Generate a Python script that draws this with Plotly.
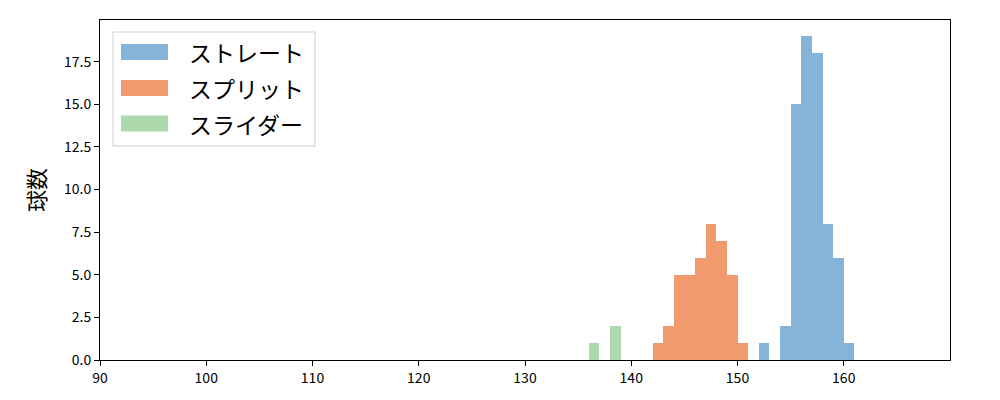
import plotly.graph_objects as go

# Histogram data (1 km/h bins, value = count)
straight_bins = [152, 154, 155, 156, 157, 158, 159, 160]
straight_counts = [1, 2, 15, 19, 18, 8, 6, 1]

split_bins = [142, 143, 144, 145, 146, 147, 148, 149, 150]
split_counts = [1, 2, 5, 5, 6, 8, 7, 5, 1]

slider_bins = [136, 138]
slider_counts = [1, 2]

series_names = ["ストレート", "スプリット", "スライダー"]
series_colors = ["#85b4d8", "#f09a6e", "#addaac"]

x_ticks = [90, 100, 110, 120, 130, 140, 150, 160]
y_ticks = [0, 2.5, 5, 7.5, 10, 12.5, 15, 17.5]

FONT = "Noto Sans CJK JP, IPAexGothic, sans-serif"

fig = go.Figure()
for bins, counts, name, color in [
    (straight_bins, straight_counts, series_names[0], series_colors[0]),
    (split_bins, split_counts, series_names[1], series_colors[1]),
    (slider_bins, slider_counts, series_names[2], series_colors[2]),
]:
    fig.add_trace(go.Bar(
        x=bins, y=counts, name=name, width=1, offset=0,
        marker=dict(color=color, line=dict(width=0)),
        showlegend=False,
    ))

# Manual legend (matplotlib style)
fig.add_shape(type="rect", xref="paper", yref="paper",
              x0=(113 - 100) / 850, x1=(315 - 100) / 850,
              y0=(360 - 146) / 340, y1=(360 - 32) / 340,
              line=dict(color="#d0d0d0", width=1), fillcolor="white", layer="above")
row_y = [52, 88, 123.5]
for i, (name, color) in enumerate(zip(series_names, series_colors)):
    yc = row_y[i]
    fig.add_shape(type="rect", xref="paper", yref="paper",
                  x0=(121 - 100) / 850, x1=(168 - 100) / 850,
                  y0=(360 - (yc + 8)) / 340, y1=(360 - (yc - 8)) / 340,
                  line=dict(width=0), fillcolor=color, layer="above")
    fig.add_annotation(xref="paper", yref="paper",
                       x=(187 - 100) / 850, y=(360 - yc) / 340,
                       text=name, showarrow=False, xanchor="left", yanchor="middle",
                       font=dict(family=FONT, size=23, color="black"))

# page body has an 8px margin: shift margins so the plot area lands at x 100-950, y 20-360
fig.update_layout(
    width=1000, height=400,
    margin=dict(l=92, r=58, t=12, b=48),
    paper_bgcolor="white", plot_bgcolor="white",
    barmode="overlay", bargap=0,
    font=dict(family=FONT, size=14, color="black"),
    xaxis=dict(range=[90, 170], tickmode="array", tickvals=x_ticks,
               ticks="outside", ticklen=5, tickwidth=1, tickcolor="black",
               showgrid=False, zeroline=False,
               showline=True, linecolor="black", linewidth=1, mirror=True,
               tickfont=dict(size=14)),
    yaxis=dict(range=[0, 19.95], tickmode="array", tickvals=y_ticks,
               tickformat=".1f",
               ticks="outside", ticklen=5, tickwidth=1, tickcolor="black",
               showgrid=False, zeroline=False,
               showline=True, linecolor="black", linewidth=1, mirror=True,
               tickfont=dict(size=14),
               title=dict(text="球数", font=dict(size=22), standoff=12)),
)

fig.write_html("out.html")
